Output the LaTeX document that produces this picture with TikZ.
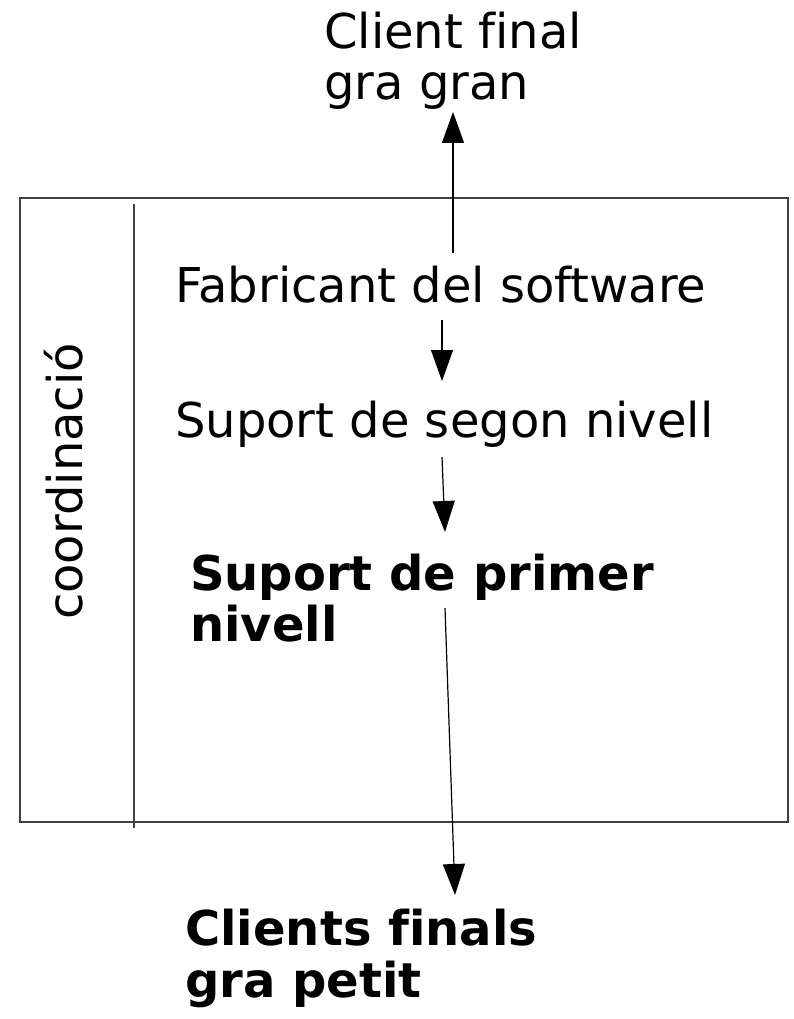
\documentclass[tikz,border=0pt]{standalone}
\usepackage{fontspec}
\setmainfont[Ligatures=NoCommon]{DejaVu Sans}
\usepackage{tikz}
\usetikzlibrary{arrows.meta}

\tikzset{
  lbl/.style={anchor=base west, inner sep=0pt, align=left,
    font=\fontsize{48}{51}\selectfont},
  flow/.style={line width=1.2pt, -{Triangle[length=31pt,width=22pt]}},
}

\begin{document}
\begin{tikzpicture}[x=1pt, y=-1pt]
\useasboundingbox (0,0) rectangle (793,1019);

% caixa i separador
\draw[line width=1.3pt, black!75] (20,198) rectangle (788,822);
\draw[line width=1.2pt, black!75] (134,204) -- (134,828);

\node[lbl, rotate=90] (coord) at (82,620) {coordinació};

% base = darrera linia
\node[lbl] (top) at (324,100) {Client final\\gra gran};
\node[lbl] (fab) at (175,302) {Fabricant del software};
\node[lbl] (seg) at (175,437) {Suport de segon nivell};
\node[lbl, font=\fontsize{48}{51}\selectfont\bfseries] (prim) at (190,641) {Suport de primer\\nivell};
\node[lbl, font=\fontsize{48}{52}\selectfont\bfseries] (bot) at (185,997) {Clients finals\\gra petit};

\coordinate (a1) at (453,253);
\coordinate (b1) at (453,112);
\coordinate (a2) at (442,320);
\coordinate (b2) at (442,381);
\coordinate (a3) at (442,457);
\coordinate (b3) at (445,532);
\coordinate (a4) at (445,608);
\coordinate (b4) at (455,895);

\draw[flow] (a1) -- (b1);
\draw[flow] (a2) -- (b2);
\draw[flow] (a3) -- (b3);
\draw[flow] (a4) -- (b4);

\end{tikzpicture}
\end{document}
